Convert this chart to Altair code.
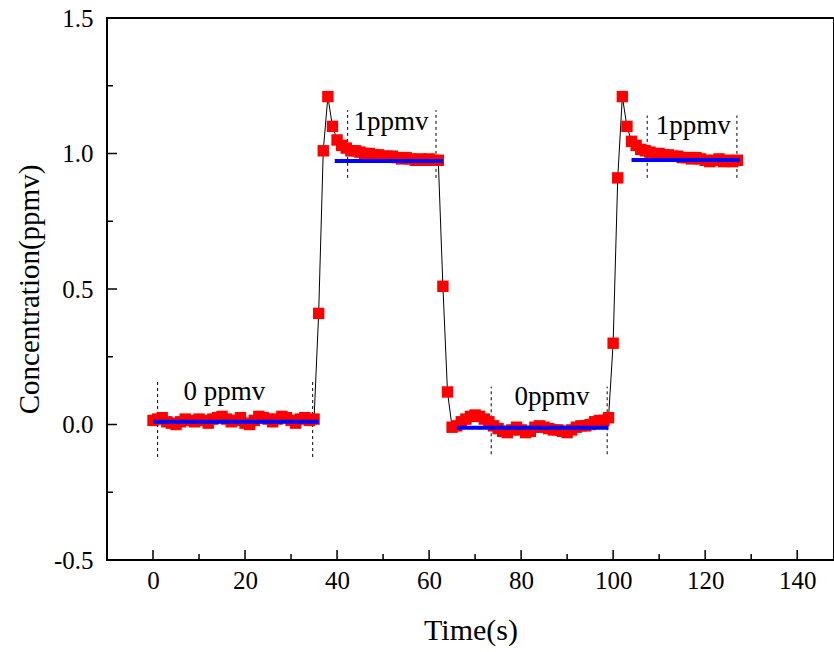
import altair as alt
import pandas as pd

# ---------------- data ----------------
time_s = list(range(0, 128))
conc = [
    # 0..35  (0 ppmv)
    0.015, 0.02, 0.025, 0.01, 0.005, 0.0, 0.01, 0.02, 0.015, 0.01,
    0.02, 0.015, 0.005, 0.02, 0.025, 0.03, 0.02, 0.01, 0.015, 0.025,
    0.005, 0.0, 0.015, 0.03, 0.025, 0.02, 0.01, 0.02, 0.03, 0.025,
    0.015, 0.005, 0.02, 0.025, 0.015, 0.02,
    # 36..62 (1 ppmv)
    0.41, 1.01, 1.21, 1.10, 1.05, 1.03, 1.02, 1.01, 1.01, 1.005,
    1.0, 1.0, 0.995, 0.995, 0.99, 0.99, 0.99, 0.985, 0.98, 0.985,
    0.98, 0.975, 0.98, 0.975, 0.98, 0.975, 0.975,
    # 63..99 (0 ppmv)
    0.51, 0.12, -0.01, -0.005, 0.01, 0.02, 0.03, 0.035, 0.03, 0.02,
    0.01, -0.005, -0.015, -0.025, -0.03, -0.02, -0.01, -0.02, -0.03, -0.025,
    -0.01, -0.005, -0.01, -0.015, -0.02, -0.02, -0.025, -0.03, -0.02, -0.01,
    -0.005, -0.005, 0.0, 0.01, 0.015, 0.015, 0.025,
    # 100..127 (1 ppmv)
    0.30, 0.91, 1.21, 1.10, 1.045, 1.03, 1.015, 1.01, 1.005, 1.0,
    1.0, 0.995, 0.995, 0.99, 0.99, 0.985, 0.985, 0.98, 0.985, 0.98,
    0.975, 0.97, 0.975, 0.98, 0.97, 0.975, 0.97, 0.975,
]

mean_start = [0, 39.5, 66, 104]
mean_end = [36, 63, 99, 127.5]
mean_val = [0.01, 0.972, -0.012, 0.976]

dash_t = [1.0, 34.7, 42.3, 61.5, 73.5, 98.7, 107.4, 126.9]
dash_lo = [-0.12, -0.12, 0.91, 0.91, -0.11, -0.11, 0.91, 0.91]
dash_hi = [0.16, 0.16, 1.16, 1.16, 0.14, 0.14, 1.14, 1.14]

label_text = ["0 ppmv", "1ppmv", "0ppmv", "1ppmv"]
label_t = [15.5, 51.7, 86.7, 117.4]
label_v = [0.12, 1.115, 0.10, 1.10]

x_major = [0, 20, 40, 60, 80, 100, 120, 140]
x_minor = [10, 30, 50, 70, 90, 110, 130]
y_major = [-0.5, 0.0, 0.5, 1.0, 1.5]
y_minor = [-0.25, 0.25, 0.75, 1.25]

# ---------------- tables ----------------
df = pd.DataFrame({"t": time_s, "c": conc})
df_mean = pd.DataFrame({"t1": mean_start, "t2": mean_end, "v": mean_val})
df_dash = pd.DataFrame({"t": dash_t, "lo": dash_lo, "hi": dash_hi})
df_lab = pd.DataFrame({"t": label_t, "v": label_v, "txt": label_text})
df_xmaj = pd.DataFrame({"t": x_major})
df_xmin = pd.DataFrame({"t": x_minor})
df_ymaj = pd.DataFrame({"v": y_major})
df_ymin = pd.DataFrame({"v": y_minor})

W, H = 727, 542
FONT = "Liberation Serif"

xs = alt.Scale(domain=[-10, 148], nice=False, zero=False)
ys = alt.Scale(domain=[-0.5, 1.5], nice=False, zero=False)

x_axis = alt.Axis(values=x_major, title="Time(s)", grid=False, ticks=False, domain=False,
                  labelFont=FONT, labelFontSize=25, labelPadding=8, labelColor="black",
                  titleFont=FONT, titleFontSize=30, titleFontWeight="normal",
                  titlePadding=22, titleColor="black")
y_axis = alt.Axis(values=y_major, title="Concentration(ppmv)", grid=False,
                  ticks=False, domain=False,
                  labelExpr="datum.value < 0 ? '-' + format(-datum.value, '.1f') : format(datum.value, '.1f')",
                  labelFont=FONT, labelFontSize=25, labelPadding=14, labelColor="black",
                  titleFont=FONT, titleFontSize=29, titleFontWeight="normal",
                  titlePadding=9, titleColor="black")

base = alt.Chart(df)

dashes = alt.Chart(df_dash).mark_rule(color="black", strokeWidth=1, strokeDash=[3, 3]).encode(
    x=alt.X("t:Q", scale=xs, axis=x_axis),
    y=alt.Y("lo:Q", scale=ys, axis=y_axis),
    y2="hi:Q",
)

line = base.mark_line(color="black", strokeWidth=1).encode(
    x=alt.X("t:Q", scale=xs), y=alt.Y("c:Q", scale=ys)
)

pts = base.mark_square(color="#ff0000", opacity=1, size=130).encode(
    x=alt.X("t:Q", scale=xs), y=alt.Y("c:Q", scale=ys)
)

means = alt.Chart(df_mean).mark_rule(color="#0000ff", strokeWidth=4).encode(
    x=alt.X("t1:Q", scale=xs), x2="t2:Q", y=alt.Y("v:Q", scale=ys)
)

labels = alt.Chart(df_lab).mark_text(font=FONT, fontSize=27, color="black",
                                      align="center", baseline="middle").encode(
    x=alt.X("t:Q", scale=xs), y=alt.Y("v:Q", scale=ys), text="txt:N"
)

xt_maj = alt.Chart(df_xmaj).mark_rule(color="black", strokeWidth=1.5).encode(
    x=alt.X("t:Q", scale=xs), y=alt.value(H), y2=alt.value(H - 10)
)
xt_min = alt.Chart(df_xmin).mark_rule(color="black", strokeWidth=1.5).encode(
    x=alt.X("t:Q", scale=xs), y=alt.value(H), y2=alt.value(H - 6)
)
yt_maj = alt.Chart(df_ymaj).mark_rule(color="black", strokeWidth=1.5).encode(
    y=alt.Y("v:Q", scale=ys), x=alt.value(0), x2=alt.value(10)
)
yt_min = alt.Chart(df_ymin).mark_rule(color="black", strokeWidth=1.5).encode(
    y=alt.Y("v:Q", scale=ys), x=alt.value(0), x2=alt.value(6)
)

chart = alt.layer(
    dashes, line, pts, means, labels, xt_maj, xt_min, yt_maj, yt_min
).properties(
    width=W, height=H,
    autosize=alt.AutoSizeParams(type="none"),
    padding={"left": 107, "top": 18, "right": 0, "bottom": 92},
    background="white",
).configure_view(
    stroke="black", strokeWidth=2
)

chart.save("out.html", embed_options={"renderer": "svg", "actions": False})
